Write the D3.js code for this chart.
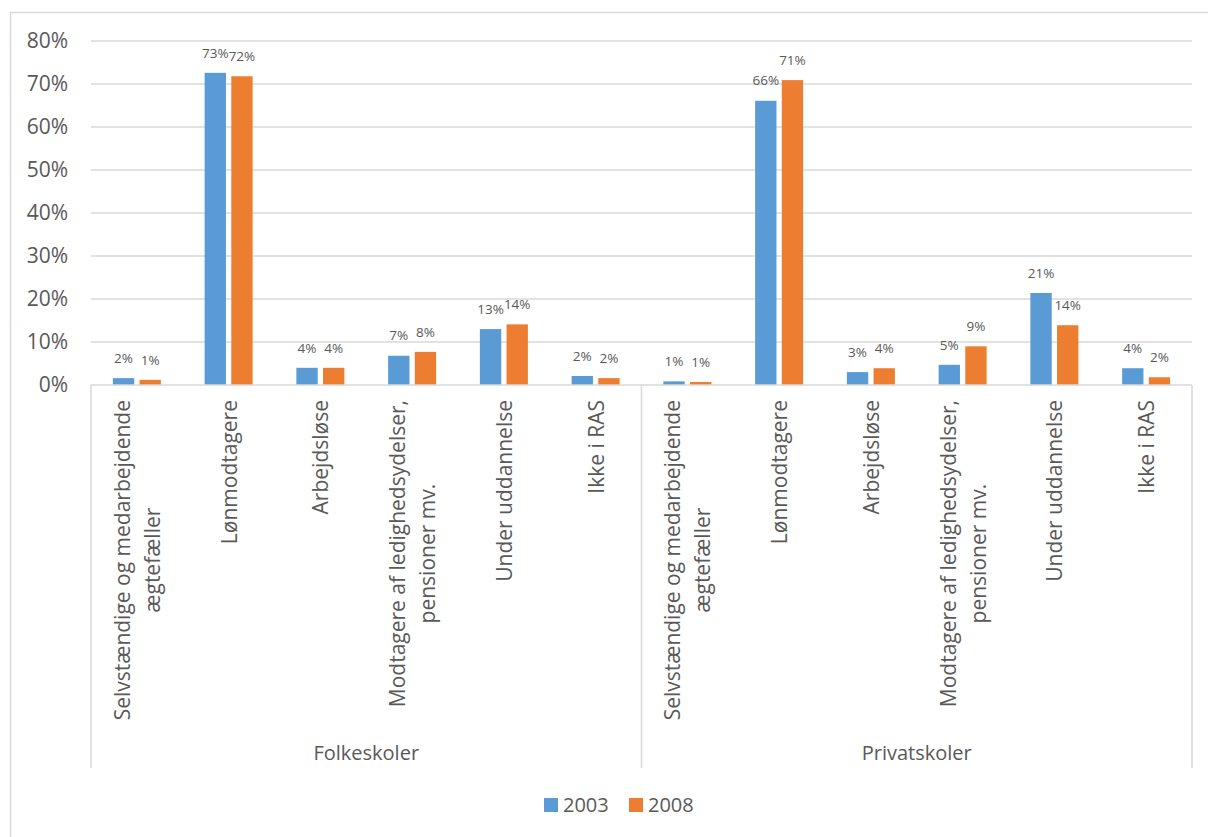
<!DOCTYPE html>
<html>
<head>
<meta charset="utf-8">
<script src="https://cdn.jsdelivr.net/npm/d3@7"></script>
<style>
  body { margin: 0; background: #fff; }
  svg { display: block; font-family: "Open Sans", sans-serif; }
</style>
</head>
<body>
<svg id="chart" width="1208" height="837"></svg>
<script>
// Data
const groups = ["Folkeskoler", "Privatskoler"];
const categories = [
    ["Selvstændige og medarbejdende", "ægtefæller"],
    ["Lønmodtagere"],
    ["Arbejdsløse"],
    ["Modtagere af ledighedsydelser,", "pensioner mv."],
    ["Under uddannelse"],
    ["Ikke i RAS"]
];
const seriesNames = ["2003", "2008"];
const values2003 = [0.016, 0.726, 0.040, 0.068, 0.130, 0.021, 0.0085, 0.661, 0.030, 0.047, 0.214, 0.039];
const values2008 = [0.012, 0.718, 0.040, 0.077, 0.141, 0.016, 0.007, 0.709, 0.039, 0.090, 0.139, 0.018];
const yTicks = [0, 0.1, 0.2, 0.3, 0.4, 0.5, 0.6, 0.7, 0.8];

const colors = { "2003": "#5b9bd5", "2008": "#ed7d31" };
const textColor = "#595959";
const gridColor = "#d9d9d9";

const svg = d3.select("#chart");
const margin = { left: 91, right: 1192, top: 41, bottom: 385 };

// outer chart border
svg.append("rect")
    .attr("x", 10.5).attr("y", 12.5)
    .attr("width", 1220).attr("height", 900)
    .attr("fill", "none").attr("stroke", gridColor).attr("stroke-width", 1.5);

const slots = d3.range(groups.length * categories.length);
const x0 = d3.scaleBand().domain(slots).range([margin.left, margin.right]).padding(0);
const y = d3.scaleLinear().domain([0, 0.8]).range([margin.bottom, margin.top]);

// gridlines
svg.append("g")
    .selectAll("line")
    .data(yTicks.slice(1))
    .join("line")
    .attr("x1", margin.left).attr("x2", margin.right)
    .attr("y1", d => y(d)).attr("y2", d => y(d))
    .attr("stroke", gridColor).attr("stroke-width", 1.5);

// y tick labels
svg.append("g")
    .selectAll("text")
    .data(yTicks)
    .join("text")
    .attr("x", 68)
    .attr("y", d => y(d))
    .attr("dy", "0.35em")
    .attr("text-anchor", "end")
    .attr("font-size", 21)
    .attr("fill", textColor)
    .text(d => d3.format(".0%")(d));

// bars
const rows = slots.map(i => ({ slot: i, v: [values2003[i], values2008[i]] }));
const barSpan = 48;
rows.forEach(r => {
    const cx = x0(r.slot) + x0.bandwidth() / 2;
    const x1 = d3.scaleBand().domain(seriesNames)
        .range([cx - barSpan / 2, cx + barSpan / 2]).paddingInner(0.2);
    const g = svg.append("g");
    seriesNames.forEach((s, k) => {
        const v = r.v[k];
        g.append("rect")
            .attr("x", x1(s)).attr("width", x1.bandwidth())
            .attr("y", y(v)).attr("height", y(0) - y(v))
            .attr("fill", colors[s]);
        g.append("text")
            .attr("x", x1(s) + x1.bandwidth() / 2)
            .attr("y", y(v) - 20)
            .attr("dy", "0.35em")
            .attr("text-anchor", "middle")
            .attr("font-size", 13.5)
            .attr("fill", textColor)
            .text(d3.format(".0%")(v));
    });
});

// axis line and group separators
svg.append("line")
    .attr("x1", margin.left).attr("x2", margin.right)
    .attr("y1", y(0)).attr("y2", y(0))
    .attr("stroke", gridColor).attr("stroke-width", 1.5);

const sepX = [0, 6, 12].map(i => i === 12 ? margin.right : x0(i));
svg.append("g")
    .selectAll("line")
    .data(sepX)
    .join("line")
    .attr("x1", d => d).attr("x2", d => d)
    .attr("y1", y(0)).attr("y2", 768)
    .attr("stroke", gridColor).attr("stroke-width", 1.5);

// category labels (rotated)
const labelTop = 400;
const lineGap = 30;
slots.forEach(i => {
    const lines = categories[i % categories.length];
    const cx = x0(i) + x0.bandwidth() / 2;
    const g = svg.append("g");
    const texts = lines.map(l => g.append("text")
        .attr("font-size", 21)
        .attr("fill", textColor)
        .attr("text-anchor", "middle")
        .text(l));
    const maxLen = d3.max(texts, t => t.node().getComputedTextLength());
    const cy = labelTop + maxLen / 2;
    texts.forEach((t, k) => {
        const bx = cx + 8 - (lines.length - 1) * lineGap / 2 + k * lineGap;
        t.attr("transform", `translate(${bx},${cy}) rotate(-90)`);
    });
});

// group labels
groups.forEach((gname, gi) => {
    svg.append("text")
        .attr("x", (sepX[gi] + sepX[gi + 1]) / 2)
        .attr("y", 760)
        .attr("text-anchor", "middle")
        .attr("font-size", 20)
        .attr("fill", textColor)
        .text(gname);
});

// legend
const legend = svg.append("g");
const legendX = [544, 629];
seriesNames.forEach((s, k) => {
    legend.append("rect")
        .attr("x", legendX[k]).attr("y", 798)
        .attr("width", 14).attr("height", 14)
        .attr("fill", colors[s]);
    legend.append("text")
        .attr("x", legendX[k] + 19).attr("y", 805)
        .attr("dy", "0.35em")
        .attr("font-size", 20)
        .attr("fill", textColor)
        .text(s);
});
</script>
</body>
</html>
